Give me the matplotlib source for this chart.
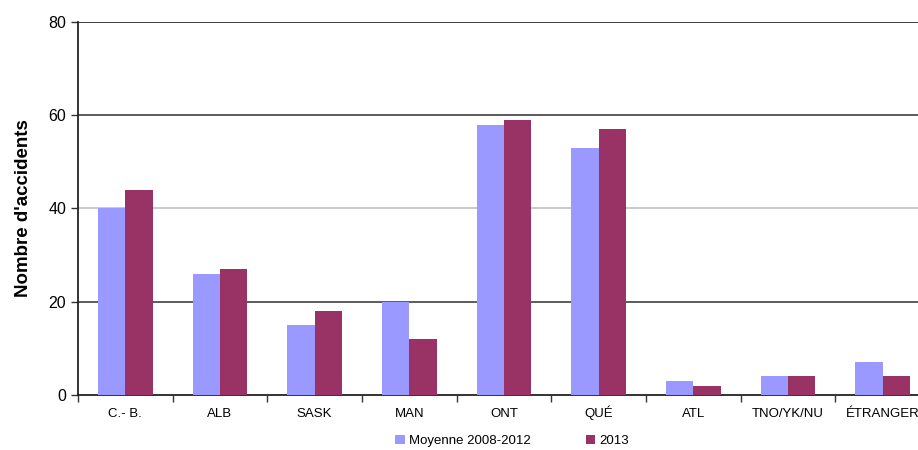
import matplotlib
matplotlib.use("Agg")
import matplotlib.pyplot as plt
import numpy as np

categories = ["C.- B.", "ALB", "SASK", "MAN", "ONT", "QUÉ", "ATL", "TNO/YK/NU", "ÉTRANGER"]
moyenne = [40, 26, 15, 20, 58, 53, 3, 4, 7]
an2013 = [44, 27, 18, 12, 59, 57, 2, 4, 4]
yticks = [0, 20, 40, 60, 80]

plt.rcParams['font.family'] = ['Liberation Sans', 'DejaVu Sans']

fig = plt.figure(figsize=(9.18, 4.5), dpi=100)
ax = fig.add_axes([78/918, 55/450, 852/918, 373/450])

x = np.arange(len(categories))
w = 0.29
ax.bar(x - w/2, moyenne, width=w, color="#9999FF", label="Moyenne 2008-2012", zorder=3)
ax.bar(x + w/2, an2013, width=w, color="#993366", label="2013", zorder=3)

ax.set_xlim(-0.5, len(categories) - 0.5)
ax.set_ylim(0, 80)
ax.set_yticks(yticks)
ax.tick_params(axis='y', labelsize=11.5, length=5, width=1, direction='out', color='#333333')
ax.set_xticks(x)
ax.set_xticklabels(categories, fontsize=9.5)
for lab in ax.get_xticklabels():
    lab.set_verticalalignment('baseline')
ax.set_xticks(np.arange(len(categories) + 1) - 0.5, minor=True)
ax.tick_params(axis='x', which='major', length=0, pad=16)
ax.tick_params(axis='x', which='minor', length=5, width=1, direction='out', color='#333333')

gcolors = {20: '#404040', 40: '#c0c0c0', 60: '#404040', 80: '#202020'}
for v, c in gcolors.items():
    ax.axhline(v, color=c, lw=1.2, zorder=1)

for s in ['top', 'right']:
    ax.spines[s].set_visible(False)
ax.spines['left'].set_color('#222222')
ax.spines['left'].set_linewidth(1.3)
ax.spines['bottom'].set_color('#222222')
ax.spines['bottom'].set_linewidth(1.3)

ax.set_ylabel("Nombre d'accidents", fontsize=13.5, fontweight='bold', labelpad=12)

handles, labels = ax.get_legend_handles_labels()
fig.legend(handles, labels, loc='center', bbox_to_anchor=(512/918, 1 - 441/450), ncol=2,
           frameon=False, fontsize=9.5, handlelength=0.7, handleheight=0.7,
           columnspacing=4.2, handletextpad=0.3)

fig.savefig("out.png", dpi=100)
